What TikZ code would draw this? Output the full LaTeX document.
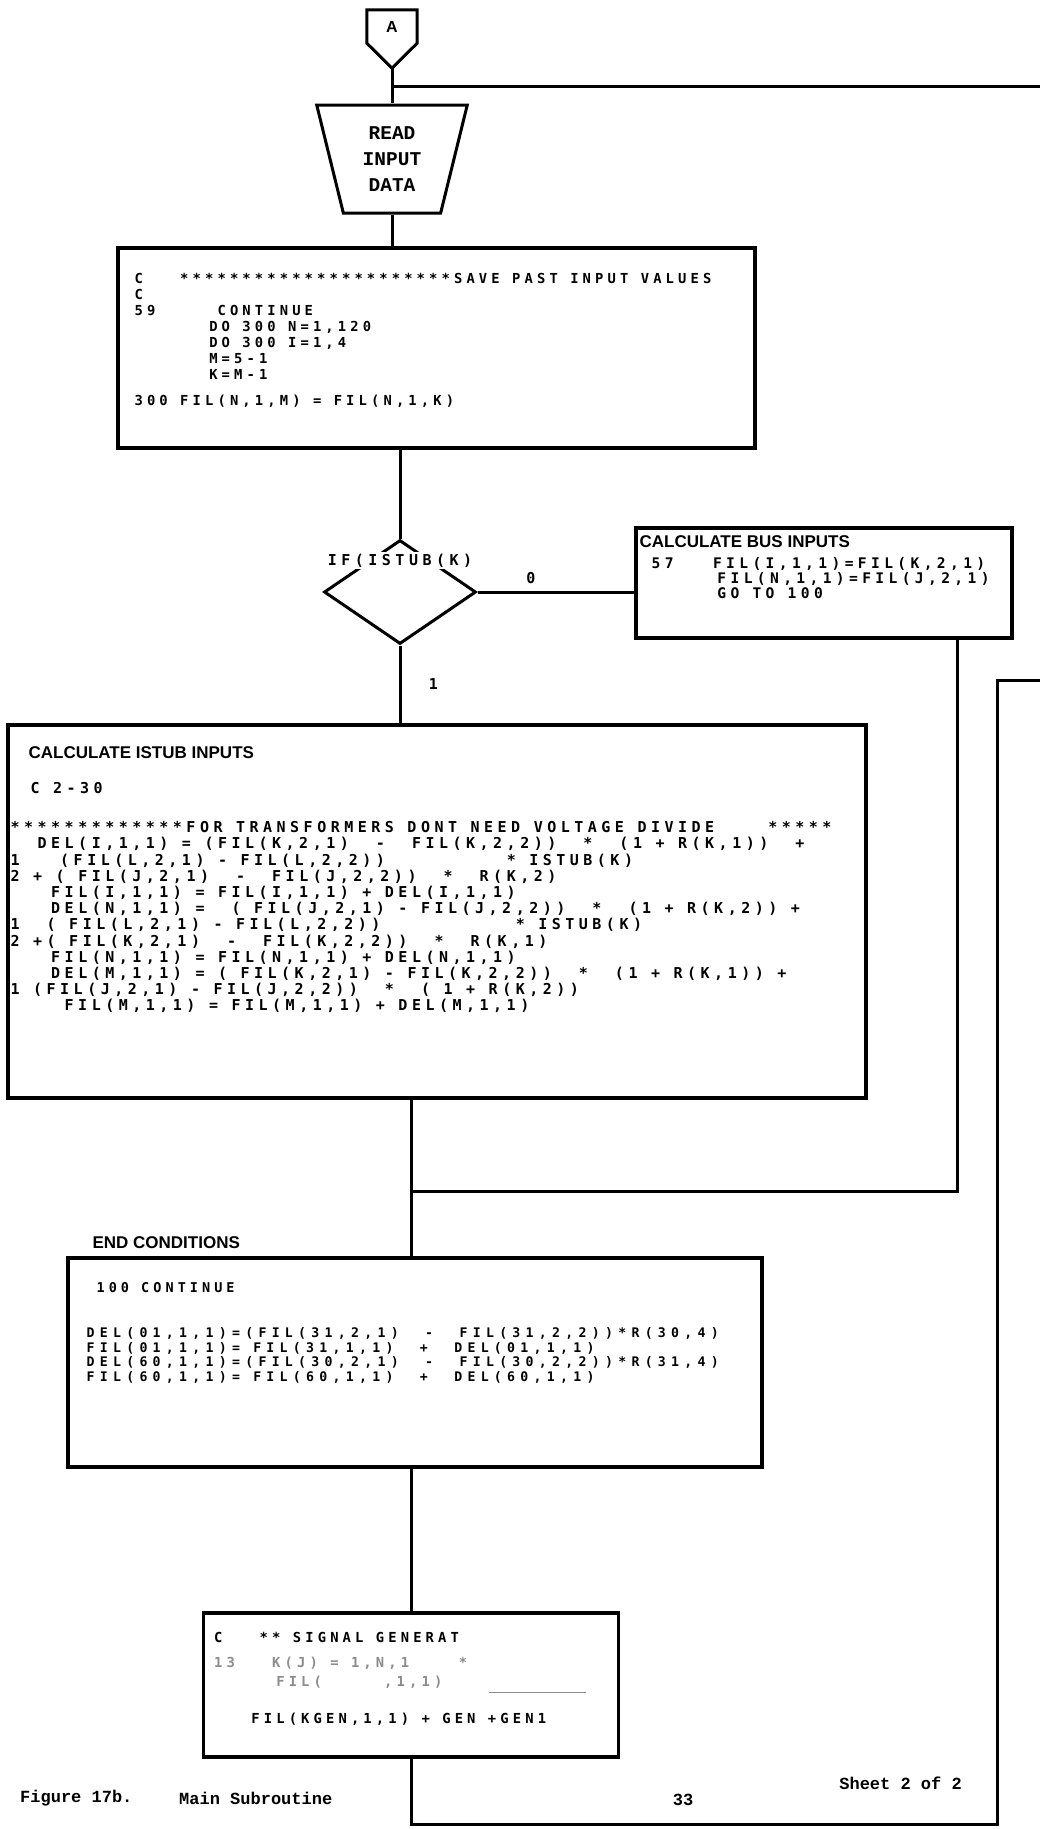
\documentclass[tikz,border=0pt]{standalone}
\usepackage{fontspec}
\usetikzlibrary{positioning,shapes.geometric}

\newfontfamily\prtfont[LetterSpace=30]{DejaVu Sans Mono}
\newfontfamily\prtwidefont[LetterSpace=40]{DejaVu Sans Mono}
\newfontfamily\handfont{Liberation Sans}
\newfontfamily\capfont{Liberation Mono}
\newcommand{\prt}[2]{\prtfont\bfseries\fontsize{#1}{#2}\selectfont\spaceskip=0.902em\relax}
\newcommand{\prtwide}[2]{\prtwidefont\bfseries\fontsize{#1}{#2}\selectfont\spaceskip=1.002em\relax}
\newcommand{\ind}[1]{\hspace*{#1\dimexpr0.902em\relax}}

\tikzset{
  flow/.style={line width=3pt},
  frame/.style={draw, rectangle, line width=3.2pt, inner sep=0pt},
  code/.style={font={\prt{15}{16}}, align=left, inner sep=0pt, anchor=north west},
  head/.style={font=\handfont\bfseries\fontsize{17}{19}\selectfont, inner sep=0pt, anchor=west},
  foot/.style={font=\capfont\bfseries\fontsize{17}{19}\selectfont, inner sep=0pt}
}

\begin{document}
\begin{tikzpicture}[x=1pt, y=-1pt, auto]
    \useasboundingbox (0,0) rectangle (1040,1829);
    \fill[white] (0,0) rectangle (1040,1829);

    \node[minimum width=50pt, minimum height=33pt, inner sep=0pt,
          font=\handfont\bfseries\fontsize{16}{16}\selectfont] (conA) at (392,26.5) {A};
    \coordinate (conAtip) at ([yshift=-25pt]conA.south);
    \draw[line width=3pt] (conA.north west) -- (conA.north east) -- (conA.south east)
        -- (conAtip) -- (conA.south west) -- cycle;
    \node[draw, trapezium, trapezium stretches=true, shape border rotate=180,
          trapezium left angle=76, trapezium right angle=76, line width=3pt,
          minimum width=151pt, minimum height=108pt, align=center,
          font=\capfont\bfseries\fontsize{19.5}{26}\selectfont,
          below of=conA, node distance=132.5pt] (read) {READ\\INPUT\\DATA};
    \node[frame, minimum width=637pt, minimum height=200pt,
          below of=read, node distance=189pt, xshift=44.5pt] (save) {};
    \node[draw, diamond, line width=3pt, minimum width=152pt, minimum height=104pt, inner sep=0pt,
          below of=save, node distance=244pt, xshift=-36.5pt] (ifstub) {};
    \node[frame, minimum width=376pt, minimum height=110pt,
          right of=ifstub, node distance=424pt, yshift=9pt] (bus) {};
    \node[frame, minimum width=858pt, minimum height=373pt,
          below of=ifstub, node distance=319.5pt, xshift=37pt] (istub) {};
    \node[frame, minimum width=694pt, minimum height=209pt,
          below of=istub, node distance=451pt, xshift=-22pt] (endc) {};
    \node[frame, minimum width=415pt, minimum height=144pt,
          below of=endc, node distance=322.5pt, xshift=-4pt] (sig) {};

    % texts in the boxes
    \node[code, font={\prt{13.8}{16}}] (savetxt) at ([shift={(18,27)}]save.north west)
        {C\ind{3}**********************SAVE~PAST~INPUT~VALUES\\
         C\\
         59\ind{5}CONTINUE\\
         \ind{6}DO~300~N=1,120\\
         \ind{6}DO~300~I=1,4\\
         \ind{6}M=5-1\\
         \ind{6}K=M-1\\[10pt]
         300~FIL(N,1,M)~=~FIL(N,1,K)};
    \node[fill=white, inner sep=2pt, font={\prt{15}{16}}] (iflbl) at ([yshift=-22pt]ifstub.north) {IF(ISTUB(K)};

    \node[head] (bushead) at ([shift={(5,15)}]bus.north west) {CALCULATE BUS INPUTS};
    \node[code, font={\prt{14.6}{15}}] (bustxt) at ([shift={(17,31)}]bus.north west)
        {57\ind{3}FIL(I,1,1)=FIL(K,2,1)\\
         \ind{5}FIL(N,1,1)=FIL(J,2,1)\\
         \ind{5}GO~TO~100};

    \node[head] (istubhead) at ([shift={(22,29)}]istub.north west) {CALCULATE ISTUB INPUTS};
    \node[code] (istubc) at ([shift={(24,59)}]istub.north west) {C~2-30};
    \node[code, font={\prt{15}{16.2}}] (istubtxt) at ([shift={(4,98)}]istub.north west)
        {*************FOR~TRANSFORMERS~DONT~NEED~VOLTAGE~DIVIDE~~~~*****\\
         \ind{2}DEL(I,1,1)~=~(FIL(K,2,1)~~-~~FIL(K,2,2))~~*~~(1~+~R(K,1))~~+\\
         1\ind{3}(FIL(L,2,1)~-~FIL(L,2,2))\ind{9}*~ISTUB(K)\\
         2~+~(~FIL(J,2,1)~~-~~FIL(J,2,2))~~*~~R(K,2)\\
         \ind{3}FIL(I,1,1)~=~FIL(I,1,1)~+~DEL(I,1,1)\\
         \ind{3}DEL(N,1,1)~=~~(~FIL(J,2,1)~-~FIL(J,2,2))~~*~~(1~+~R(K,2))~+\\
         1~~(~FIL(L,2,1)~-~FIL(L,2,2))\ind{10}*~ISTUB(K)\\
         2~+(~FIL(K,2,1)~~-~~FIL(K,2,2))~~*~~R(K,1)\\
         \ind{3}FIL(N,1,1)~=~FIL(N,1,1)~+~DEL(N,1,1)\\
         \ind{3}DEL(M,1,1)~=~(~FIL(K,2,1)~-~FIL(K,2,2))~~*~~(1~+~R(K,1))~+\\
         1~(FIL(J,2,1)~-~FIL(J,2,2))~~*~~(~1~+~R(K,2))\\
         \ind{4}FIL(M,1,1)~=~FIL(M,1,1)~+~DEL(M,1,1)};

    \node[head] (endhead) at ([shift={(26,-14)}]endc.north west) {END CONDITIONS};
    \node[code, font={\prt{13.5}{16}}] (endcont) at ([shift={(30,26)}]endc.north west) {100~CONTINUE};
    \node[code, font={\prtwide{13.2}{14.6}}] (endtxt) at ([shift={(20,71)}]endc.north west)
        {DEL(01,1,1)=(FIL(31,2,1)~~-~~FIL(31,2,2))*R(30,4)\\
         FIL(01,1,1)=~FIL(31,1,1)~~+~~DEL(01,1,1)\\
         DEL(60,1,1)=(FIL(30,2,1)~~-~~FIL(30,2,2))*R(31,4)\\
         FIL(60,1,1)=~FIL(60,1,1)~~+~~DEL(60,1,1)};

    \node[code, font={\prt{13.8}{16}}] (sigtxt) at ([shift={(12,21)}]sig.north west)
        {C\ind{3}**~SIGNAL~GENERAT\\[9pt]
         \textcolor{black!45}{13\ind{3}K(J)~=~1,N,1\ind{4}*}\\[3pt]
         \textcolor{black!45}{\ind{5}FIL(~~~~~,1,1)}\\[21pt]
         \ind{3}FIL(KGEN,1,1)~+~GEN~+GEN1};
    \draw[line width=1.2pt, black!45] ([shift={(287,81)}]sig.north west) -- ++(97,0);

    % connectors
    \coordinate (offA) at (1040,86);
    \coordinate (loopR) at (997,680);
    \coordinate (offR) at (1040,680);
    \coordinate (busout) at ([xshift=133pt]bus.south);
    \draw[flow] (conAtip) -- (read.north);
    \draw[flow] (conAtip |- offA) -- (offA);
    \draw[flow] (read.south) -- (read.south |- save.north);
    \draw[flow] (save.south -| ifstub.north) -- (ifstub.north);
    \draw[flow] (ifstub.east) -- (ifstub.east -| bus.west)
        node[pos=0.34, above=3pt, font={\prt{15}{16}}] (zero) {0};
    \draw[flow] (ifstub.south) -- (ifstub.south |- istub.north)
        node[midway, right=24pt, font={\prt{15}{16}}] (one) {1};
    \path (istub.south -| sig.north) ++(0,92) coordinate (join);
    \draw[flow] (busout) |- (join);
    \draw[flow] (istub.south -| sig.north) -- (sig.north |- endc.north);
    \draw[flow] (endc.south -| sig.north) -- (sig.north);
    \draw[flow] (sig.south) -- ++(0,66) -| (loopR) -- (offR);

    % page footer
    \node[foot, anchor=west] (fig) at (20,1798) {Figure 17b.};
    \node[foot, anchor=west] (title) at (179,1798) {Main Subroutine};
    \node[foot] (page) at (683,1800) {33};
    \node[foot, anchor=east] (sheet) at (962,1783) {Sheet 2 of 2};
\end{tikzpicture}
\end{document}
